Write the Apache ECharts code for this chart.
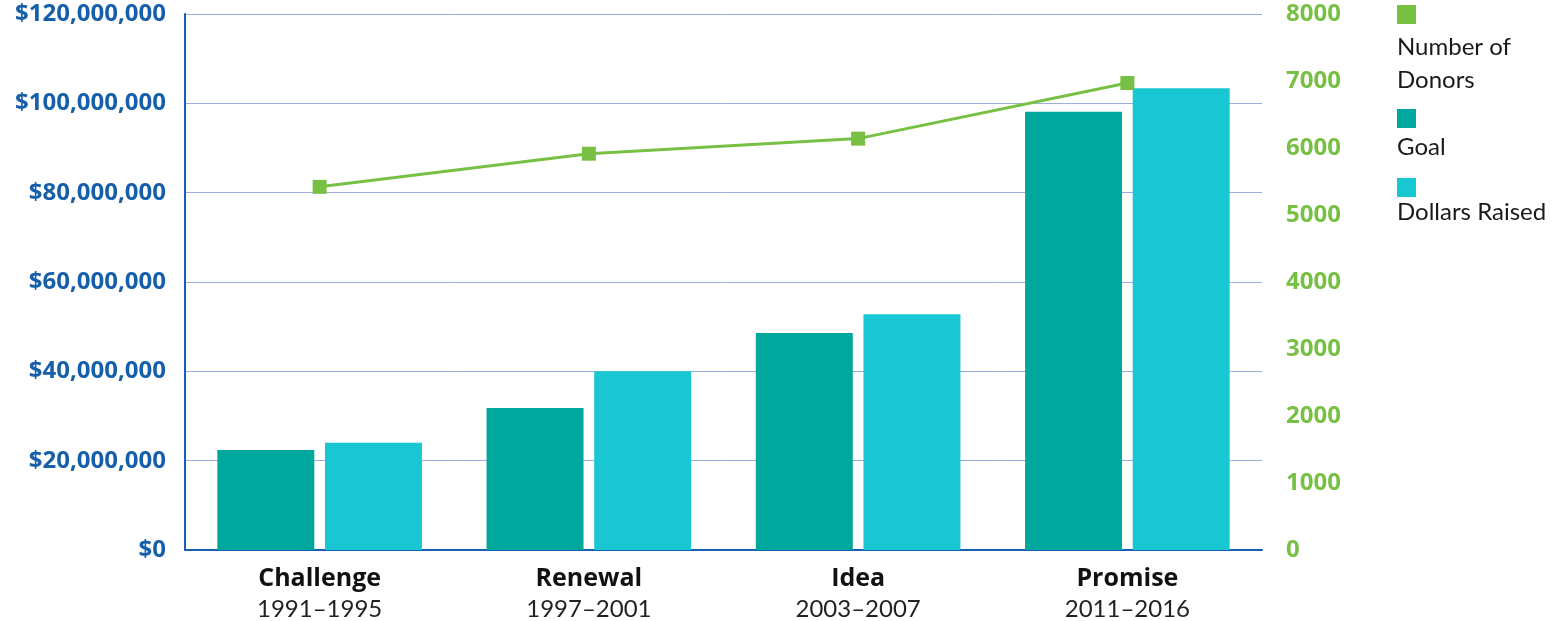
<!DOCTYPE html>
<html><head><meta charset="utf-8">
<script src="https://cdn.jsdelivr.net/npm/echarts@6/dist/echarts.min.js"></script>
<style>html,body{margin:0;padding:0;background:#fff}#c{width:1565px;height:621px}</style>
</head><body><div id="c"></div>
<script>
var campaigns = ['Challenge', 'Renewal', 'Idea', 'Promise'];
var years = ['1991–1995', '1997–2001', '2003–2007', '2011–2016'];
var goal = [22400000, 31800000, 48600000, 98100000];
var raised = [24000000, 40000000, 52800000, 103400000];
var donors = [5420, 5915, 6140, 6970];

var C_GOAL = '#00a79d', C_RAISED = '#19c7d3', C_DONORS = '#77c043';
var FONT = 'Lato', BOLD = 'Open Sans';

function legendFor(name, top, colorKey, color, sqLH, tLH) {
  var rich = { t: { fontFamily: FONT, fontSize: 24, color: '#1a1a1a', lineHeight: tLH } };
  rich[colorKey] = { width: 19, height: 19, backgroundColor: color, lineHeight: sqLH };
  return {
    data: [name], left: 1397, top: top, orient: 'vertical', selectedMode: false,
    itemWidth: 0, itemHeight: 0, itemGap: 0, padding: 0,
    icon: 'rect',
    formatter: function (n) {
      var lines = n === 'Number of Donors' ? ['Number of', 'Donors'] : [n];
      return '{' + colorKey + '|}\n' + lines.map(function (l) { return '{t|' + l + '}'; }).join('\n');
    },
    textStyle: { rich: rich, padding: [0, 0, 0, -5] }
  };
}

var chart = echarts.init(document.getElementById('c'));
chart.setOption({
  animation: false,
  grid: { left: 185, right: 303, top: 14, bottom: 71 },
  legend: [
    legendFor('Number of Donors', 5, 'g', C_DONORS, 32, 33),
    legendFor('Goal', 109, 'a', C_GOAL, 25, 33),
    legendFor('Dollars Raised', 178, 'b', C_RAISED, 23, 26)
  ],
  xAxis: {
    type: 'category', data: campaigns,
    axisLine: { lineStyle: { color: '#1a5fab', width: 2 } },
    axisTick: { show: false },
    axisLabel: {
      margin: 14,
      formatter: function (v, i) { return '{n|' + v + '}\n{y|' + years[i] + '}'; },
      rich: {
        n: { fontFamily: BOLD, fontWeight: 'bold', fontSize: 25, color: '#111', lineHeight: 30 },
        y: { fontFamily: FONT, fontSize: 24, color: '#222', lineHeight: 30 }
      }
    }
  },
  yAxis: [{
    type: 'value', min: 0, max: 120000000, interval: 20000000,
    axisLine: { show: true, lineStyle: { color: '#1a5fab', width: 2 } },
    axisTick: { show: false },
    splitLine: { lineStyle: { color: '#9aaee0', width: 1 } },
    axisLabel: {
      margin: 19, fontFamily: BOLD, fontWeight: 'bold', fontSize: 24, color: '#1660ab',
      formatter: function (v) { return '$' + v.toLocaleString('en-US'); }
    }
  }, {
    type: 'value', min: 0, max: 8000, interval: 1000,
    axisLine: { show: false }, axisTick: { show: false }, splitLine: { show: false },
    axisLabel: {
      margin: 24, fontFamily: BOLD, fontWeight: 'bold', fontSize: 24, color: C_DONORS,
      formatter: function (v) { return String(v); }
    }
  }],
  series: [{
    name: 'Goal', type: 'bar', data: goal, itemStyle: { color: C_GOAL },
    barGap: '11%', barCategoryGap: '24%'
  }, {
    name: 'Dollars Raised', type: 'bar', data: raised, itemStyle: { color: C_RAISED }
  }, {
    name: 'Number of Donors', type: 'line', yAxisIndex: 1, data: donors,
    symbol: 'rect', symbolSize: 14,
    lineStyle: { color: C_DONORS, width: 3 }, itemStyle: { color: C_DONORS }
  }]
});
</script></body></html>
